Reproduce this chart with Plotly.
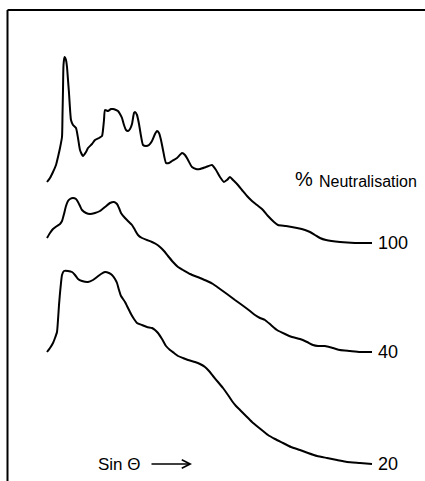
import plotly.graph_objects as go

# Sin theta readings (arbitrary units) and relative intensities for each curve
x_100 = [47, 50, 53, 56, 58, 60, 62, 62.5, 63, 63.5, 64.5, 66, 67, 68, 69, 71, 73, 76, 78, 80,
         83, 86, 88, 92, 95, 99, 102, 103, 104, 105, 108, 111, 113, 116, 118, 120, 122, 124, 126, 128,
         130, 132, 134, 135, 137, 139, 141, 143, 146, 149, 152, 155, 157, 159, 161, 163, 166, 169, 172, 177,
         182, 185, 188, 192, 196, 200, 206, 212, 216, 220, 224, 227, 230, 233, 237, 242, 247, 252, 257, 262,
         268, 274, 278, 286, 297, 305, 310, 315, 320, 326, 340, 355, 372]
i_100 = [61, 65, 71, 78, 86, 95, 106, 128, 153, 178, 186, 183, 176, 163, 150, 123, 118, 115, 105, 93,
         87, 91, 95, 99, 103, 105, 107, 113, 123, 133, 132, 134, 134, 133, 132, 129, 125, 118, 113, 112,
         114, 119, 130, 131, 128, 119, 107, 98, 97, 98, 102, 109, 112, 110, 103, 93, 80, 80, 82, 85,
         90, 88, 83, 76, 74, 74, 76, 78, 73, 66, 61, 63, 66, 63, 59, 53, 47, 42, 38, 34,
         27, 21, 18, 17, 15, 13, 11, 8, 5, 3, 1, 0, 0]

x_40 = [47, 50, 53, 57, 60, 62, 64, 66, 68, 70, 73, 76, 78, 80, 82, 86, 90, 95, 100, 105,
        110, 114, 117, 119, 121, 125, 129, 132, 135, 138, 142, 147, 152, 156, 160, 164, 168, 173, 178, 183,
        190, 200, 207, 213, 220, 227, 235, 242, 250, 255, 260, 265, 271, 277, 285, 292, 300, 307, 313, 318,
        325, 333, 340, 350, 360, 372]
i_40 = [114, 119, 123, 126, 128, 131, 138, 146, 151, 153, 154, 153, 150, 146, 142, 139, 138, 139, 141, 145,
        149, 150, 148, 144, 139, 134, 130, 127, 122, 117, 114, 112, 110, 108, 105, 101, 96, 90, 85, 82,
        78, 74, 71, 68, 63, 58, 52, 47, 41, 37, 34, 32, 27, 22, 18, 15, 13, 10, 7, 6,
        6, 4, 2, 1, 0, 0]

x_20 = [47, 50, 53, 55, 57, 58, 59, 60, 61, 62, 64, 68, 72, 75, 78, 82, 88, 93, 97, 101,
        105, 109, 112, 115, 117, 119, 121, 125, 128, 131, 134, 137, 142, 147, 152, 155, 158, 162, 166, 170,
        174, 178, 183, 188, 195, 200, 205, 209, 213, 218, 223, 228, 232, 236, 240, 246, 252, 258, 263, 268,
        275, 283, 291, 300, 308, 317, 327, 337, 347, 360, 372]
i_20 = [112, 116, 121, 126, 132, 144, 159, 171, 181, 189, 193, 193, 192, 189, 185, 183, 182, 184, 187, 190,
        192, 191, 189, 185, 181, 174, 168, 162, 156, 150, 145, 141, 139, 137, 136, 134, 131, 125, 118, 114,
        111, 108, 106, 104, 102, 100, 97, 93, 88, 82, 76, 69, 63, 58, 54, 48, 42, 37, 33, 29,
        25, 21, 17, 14, 11, 8, 6, 4, 2, 1, 0]

labels = ["100", "40", "20"]
offsets = [238, 129, 17]   # vertical stacking offsets of the curves

fig = go.Figure()
series = [(x_100, i_100), (x_40, i_40), (x_20, i_20)]
for (xs, ys), lab, off in zip(series, labels, offsets):
    fig.add_trace(go.Scatter(
        x=xs, y=[v + off for v in ys], mode="lines",
        line=dict(color="black", width=2, shape="spline", smoothing=0.5),
        hoverinfo="skip", showlegend=False))
    fig.add_annotation(x=xs[-1] + 4, y=off, text=lab, showarrow=False,
                       xanchor="left", yanchor="middle",
                       font=dict(family="Liberation Sans", size=18, color="black"))

fig.add_annotation(x=293, y=302, text="%", showarrow=False, xanchor="left", yanchor="middle",
                   font=dict(family="Liberation Sans", size=20, color="black"))
fig.add_annotation(x=317, y=300, text="Neutralisation", showarrow=False,
                   xanchor="left", yanchor="middle",
                   font=dict(family="Liberation Sans", size=16, color="black"))
fig.add_annotation(x=96, y=17, text="Sin Θ", showarrow=False, xanchor="left", yanchor="middle",
                   font=dict(family="Liberation Sans", size=17, color="black"))
fig.add_annotation(x=192, y=17, ax=150, ay=17, axref="x", ayref="y", xref="x", yref="y",
                   text="", showarrow=True, arrowhead=5, arrowsize=1.1, arrowwidth=1.5,
                   arrowcolor="black")

# frame lines (top and left)
fig.add_shape(type="line", x0=7.5, x1=425, y0=471, y1=471, line=dict(color="black", width=2))
fig.add_shape(type="line", x0=7.5, x1=7.5, y0=0, y1=471, line=dict(color="black", width=2))

fig.update_layout(
    width=425, height=481, margin=dict(l=0, r=0, t=0, b=0),
    paper_bgcolor="white", plot_bgcolor="white",
    xaxis=dict(range=[0, 425], visible=False, fixedrange=True),
    yaxis=dict(range=[0, 481], visible=False, fixedrange=True),
)

fig.write_html("out.html", config={"displayModeBar": False},
               post_script="document.body.style.margin='0';document.body.style.overflow='hidden';")
